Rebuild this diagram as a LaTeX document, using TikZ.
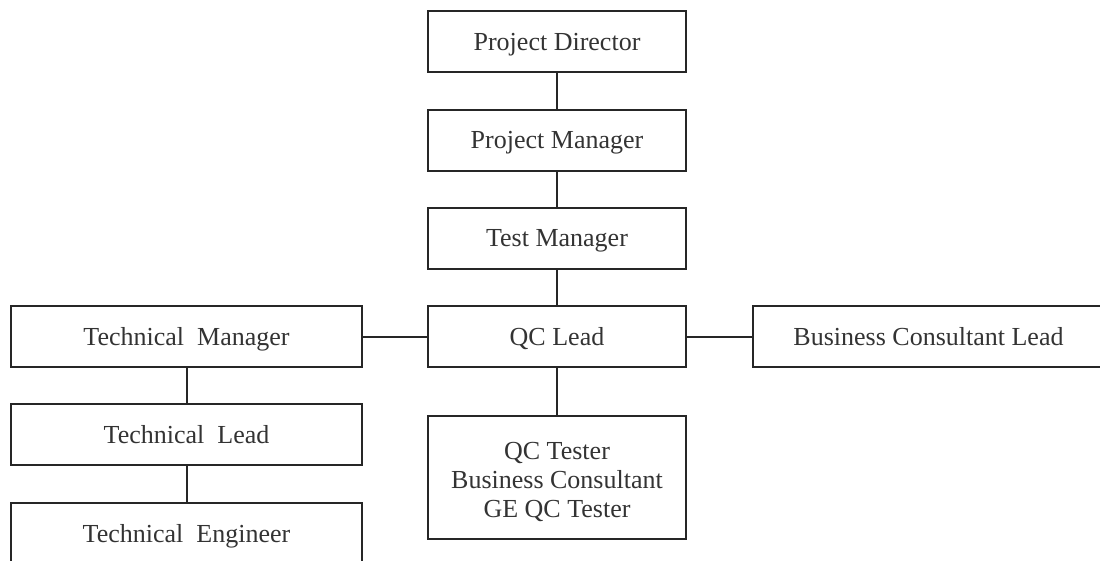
\documentclass[tikz,border=0pt]{standalone}
\usepackage{fontspec}
\setmainfont{Liberation Serif}
\usepackage{tikz}
\tikzset{
	box/.style args = {#1}{rectangle, draw=black!85, line width=2pt, text=black!80,
		minimum width=#1, minimum height=61pt, inner sep=0pt,
		font=\fontsize{26}{29}\selectfont},
	box/.default = 258pt,
	role/.style = {box=#1, text height=17pt, text depth=0pt},
	role/.default = 258pt,
	link/.style = {draw=black!85, line width=2pt},
}

\begin{document}
\begin{tikzpicture}[x=1pt,y=-1pt]
				\useasboundingbox (0,0) rectangle (1100,560);
				\clip (0,0) rectangle (1100,560);
				\node[role] (director) at (557,41.5) {Project Director};
				\node[role] (pmanager) at (557,140) {Project Manager};
				\node[role] (tmanager) at (557,238) {Test Manager};
				\node[role] (qclead) at (557,336.5) {QC Lead};
				\node[box, minimum height=123pt] (testers) at (557,477.5)
					{\raisebox{-5pt}[\height][\depth]{\begin{tabular}{@{}c@{}}QC Tester\\Business Consultant\\GE QC Tester\end{tabular}}};
				\foreach \y/\t [count = \i] in {336.5/Manager,434.5/Lead,533.5/Engineer} {
					\node[role=351pt] (tech\i) at (186.5,\y) {Technical~~\t};
				}
				\node[role=351pt] (bclead) at (928.5,336.5) {Business Consultant Lead};
				\draw[link] (director) -- (pmanager);
				\draw[link] (pmanager) -- (tmanager);
				\draw[link] (tmanager) -- (qclead);
				\draw[link] (qclead) -- (testers);
				\draw[link] (tech1) -- (qclead);
				\draw[link] (qclead) -- (bclead);
				\draw[link] (tech1) -- (tech2);
				\draw[link] (tech2) -- (tech3);
			\end{tikzpicture}
\end{document}
